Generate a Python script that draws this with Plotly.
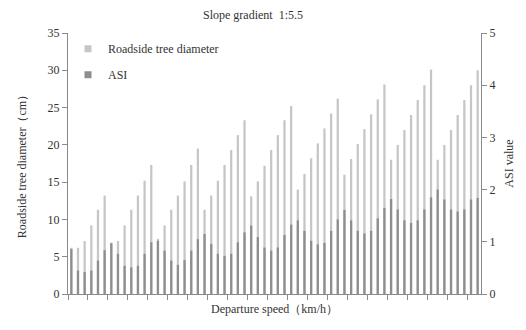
import plotly.graph_objects as go

# Roadside tree diameter (cm), left axis
diameter = [
    6.2, 6.2, 7.1, 9.2, 11.3, 13.2,
    6.9, 7.1, 9.2, 11.3, 13.2, 15.2, 17.3,
    7.4, 9.2, 11.3, 13.2, 15.1, 17.3, 19.5,
    11.3, 13.2, 15.2, 17.3, 19.3, 21.3, 23.3,
    13.1, 15.1, 17.2, 19.3, 21.3, 23.3, 25.2,
    14.0, 16.1, 18.2, 20.2, 22.2, 24.2, 26.2,
    16.0, 18.1, 20.1, 22.1, 24.1, 26.1, 28.1,
    18.0, 20.0, 22.0, 24.0, 26.0, 28.0, 30.1,
    18.0, 20.0, 22.0, 24.0, 26.0, 28.0, 30.0,
]

# ASI value, right axis
asi = [
    0.86, 0.45, 0.42, 0.45, 0.64, 0.84,
    0.97, 0.77, 0.54, 0.51, 0.54, 0.77, 0.99,
    1.02, 0.83, 0.64, 0.56, 0.65, 0.83, 1.05,
    1.15, 0.96, 0.77, 0.73, 0.77, 0.99, 1.18,
    1.31, 1.09, 0.89, 0.83, 0.89, 1.13, 1.33,
    1.41, 1.21, 1.02, 0.95, 0.98, 1.21, 1.43,
    1.61, 1.41, 1.21, 1.16, 1.21, 1.45, 1.65,
    1.82, 1.62, 1.41, 1.36, 1.41, 1.62, 1.85,
    2.00, 1.81, 1.62, 1.58, 1.62, 1.81, 1.84,
]

categories = [str(i + 1) for i in range(len(diameter))]

title_text = "Slope gradient  1:5.5"
left_title = "Roadside tree diameter（cm）"
right_title = "ASI value"
x_title = "Departure speed（km/h）"
series_names = ["Roadside tree diameter", "ASI"]

FONT = "Liberation Serif, Times New Roman, serif"
TXT = "#333333"
AX = "#8a8a8a"
LIGHT = "#c6c6c6"
DARK = "#8e8e8e"

fig = go.Figure()
fig.add_trace(go.Bar(
    x=categories, y=diameter, name=series_names[0],
    marker=dict(color=LIGHT, line=dict(width=0)), width=0.34,
    showlegend=False, yaxis="y",
))
fig.add_trace(go.Bar(
    x=categories, y=asi, name=series_names[1],
    marker=dict(color=DARK, line=dict(width=0)), width=0.34,
    showlegend=False, yaxis="y2",
))
# legend swatches (small squares like the reference)
for nm, col, grp in [(series_names[0], LIGHT, "a"), (series_names[1], DARK, "b")]:
    fig.add_trace(go.Scatter(
        x=[None], y=[None], mode="markers", name=nm, legendgroup=grp,
        marker=dict(symbol="square", size=7, color=col), showlegend=True,
    ))

fig.update_layout(
    width=526, height=330,
    margin=dict(l=68, r=41, t=33, b=36),
    paper_bgcolor="white", plot_bgcolor="white",
    barmode="overlay",
    font=dict(family=FONT, size=12, color=TXT),
    title=dict(text=title_text, x=0.448, xref="paper", xanchor="center",
               y=0.955, yref="container", yanchor="middle",
               font=dict(family=FONT, size=12, color=TXT)),
    showlegend=True,
    legend=dict(x=0.0, y=0.995, xanchor="left", yanchor="top",
                bgcolor="rgba(0,0,0,0)", traceorder="grouped",
                itemwidth=30,
                tracegroupgap=7, font=dict(family=FONT, size=12, color=TXT)),
    xaxis=dict(
        type="category", range=[-0.5, len(categories) - 0.5],
        showticklabels=False, showgrid=False,
        showline=True, linecolor=AX, linewidth=1,
        ticks="outside", tickson="boundaries", ticklen=5, tickcolor=AX,
        title=dict(text=x_title, standoff=10,
                   font=dict(family=FONT, size=12, color=TXT)),
    ),
    yaxis=dict(
        range=[0, 35], dtick=5, showgrid=False, zeroline=False,
        showline=True, linecolor=AX, linewidth=1,
        ticks="outside", ticklen=5, tickcolor=AX,
        tickfont=dict(family=FONT, size=12, color=TXT),
        title=dict(text=left_title, standoff=18,
                   font=dict(family=FONT, size=12, color=TXT)),
    ),
    yaxis2=dict(
        range=[0, 5], dtick=1, overlaying="y", side="right",
        showgrid=False, zeroline=False,
        showline=True, linecolor=AX, linewidth=1,
        ticks="outside", ticklen=5, tickcolor=AX,
        tickfont=dict(family=FONT, size=12, color=TXT),
        title=dict(text=right_title, standoff=10,
                   font=dict(family=FONT, size=12, color=TXT)),
    ),
)

fig.write_html("out.html")
